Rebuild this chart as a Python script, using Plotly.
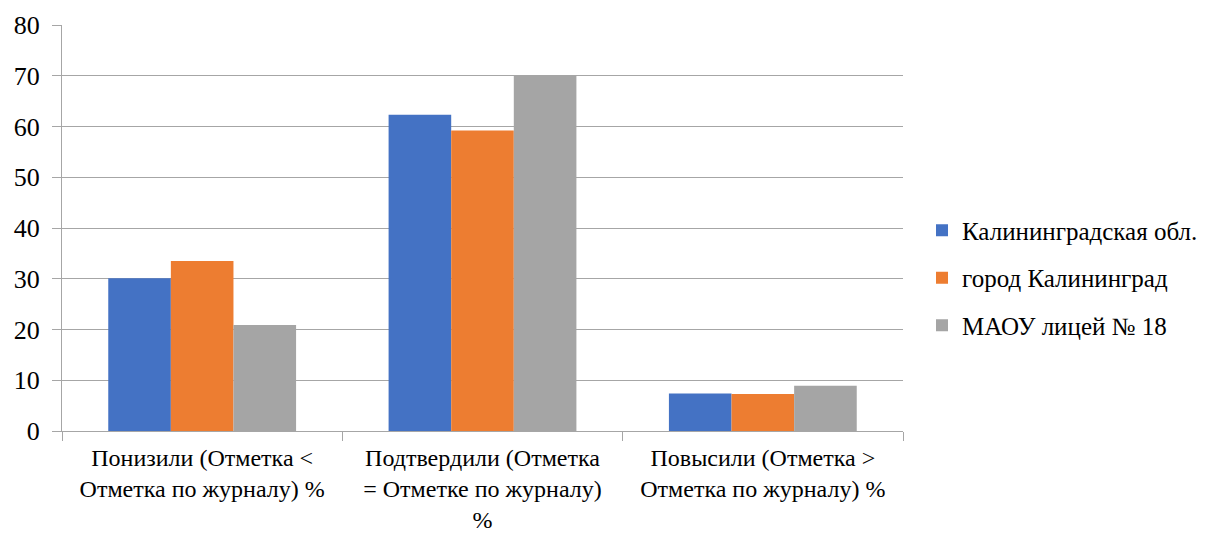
import plotly.graph_objects as go

# ── data ──────────────────────────────────────────────────────────────────────
categories = [
    "Понизили (Отметка <<br>Отметка по журналу) %",
    "Подтвердили (Отметка<br>= Отметке по журналу)<br>%",
    "Повысили (Отметка ><br>Отметка по журналу) %",
]
series_names = ["Калининградская обл.", "город Калининград", "МАОУ лицей № 18"]
region_vals = [30.1, 62.3, 7.4]
city_vals = [33.5, 59.2, 7.3]
lyceum_vals = [20.9, 70.0, 8.9]
y_ticks = [0, 10, 20, 30, 40, 50, 60, 70, 80]

COLOURS = ["#4472C4", "#ED7D31", "#A5A5A5"]
FONT = "Times New Roman, Liberation Serif, Liberation Sans, sans-serif"
GRID = "#A6A6A6"

fig = go.Figure()
for name, vals, col in zip(series_names, [region_vals, city_vals, lyceum_vals], COLOURS):
    fig.add_trace(go.Bar(
        x=categories,
        y=vals,
        name=name,
        legendgroup=name,
        marker=dict(color=col, line=dict(width=0)),
    ))

fig.update_layout(
    width=1218,
    height=533,
    barmode="group",
    bargap=0.33,
    bargroupgap=0,
    plot_bgcolor="white",
    paper_bgcolor="white",
    font=dict(family=FONT, size=24, color="#000000"),
    margin=dict(l=62, r=315, t=25, b=102),
    legend=dict(
        x=1.0226, y=0.377, xanchor="left", yanchor="middle",
        font=dict(family=FONT, size=25),
        itemwidth=30,
        tracegroupgap=12,
    ),
    xaxis=dict(
        automargin=False,
        tickson="boundaries",
        ticks="outside",
        ticklen=9,
        tickcolor=GRID,
        showline=True,
        linecolor=GRID,
        ticklabelstandoff=5,
        tickfont=dict(family=FONT, size=24),
    ),
    yaxis=dict(
        automargin=False,
        range=[0, 80],
        tickvals=y_ticks,
        showgrid=True,
        gridcolor=GRID,
        gridwidth=1,
        showline=True,
        linecolor=GRID,
        ticks="outside",
        ticklen=9,
        tickcolor=GRID,
        zeroline=False,
        ticklabelstandoff=7,
        tickfont=dict(family=FONT, size=26),
    ),
)

# page body has an 8px default margin; remove it so the figure sits at (0, 0)
fig.write_html(
    "out.html",
    config={"displayModeBar": False},
    post_script="document.body.style.margin='0';",
)
